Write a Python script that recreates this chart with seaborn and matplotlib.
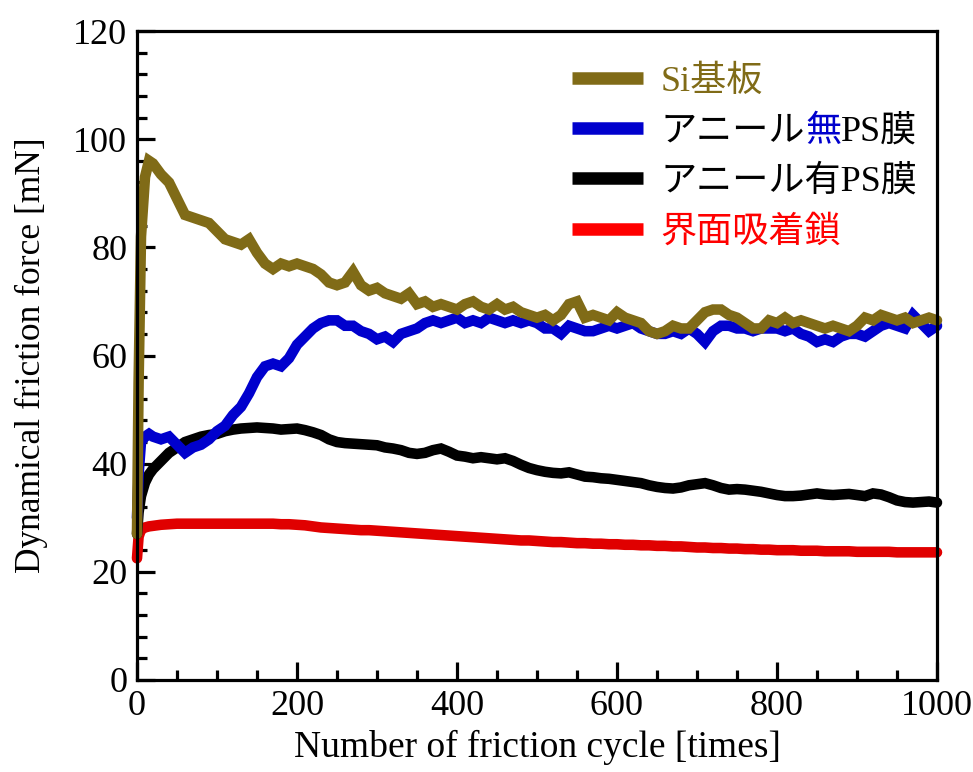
import matplotlib
matplotlib.use("Agg")
import matplotlib.pyplot as plt
from matplotlib.lines import Line2D
from matplotlib.ticker import MultipleLocator
import pandas as pd
import seaborn as sns

# Friction cycle number at each sample
cycles = [0, 2, 5, 10, 15] + list(range(20, 1001, 10))

# Dynamical friction force [mN] for each sample
si_substrate = [
    27, 55, 82, 93, 96,
    95.5, 93.5, 92, 89, 86, 85.5, 85, 84.5, 83, 81.5,
    81, 80.5, 81.5, 79, 77, 76, 77, 76.5, 77, 76.5,
    76, 75, 73.5, 73, 73.5, 75.5, 73, 72, 72.5, 71.5,
    71, 70.5, 71.5, 69.5, 70, 69, 69.5, 69, 68.5, 69.5,
    70, 69, 68.5, 69.5, 68.5, 69, 68, 67.5, 67, 67.5,
    66.5, 67.5, 69.5, 70, 67, 67.5, 67, 66.5, 68, 67,
    66.5, 66, 64.5, 64, 64.5, 65.5, 65, 65, 66.5, 68,
    68.5, 68.5, 67.5, 67, 66, 65, 65, 66.5, 66, 67,
    66, 66.5, 66, 65.5, 65, 65.5, 65, 64.5, 65.5, 67,
    66.5, 67.5, 67, 66.5, 67, 66, 66.5, 67, 66.5,
]
unannealed_ps = [
    30, 38, 44, 45, 45.5,
    45, 44.5, 45, 43.5, 42, 43, 43.5, 44.5, 46, 47,
    49, 50.5, 53, 56, 58, 58.5, 58, 59.5, 62, 63.5,
    65, 66, 66.5, 66.5, 65.5, 65.5, 64.5, 64, 63, 63.5,
    62.5, 64, 64.5, 65, 66, 66.5, 66, 66.5, 67, 66,
    66.5, 66, 67, 66.5, 66, 66.5, 66, 66.5, 66, 65,
    65, 64, 65.5, 65, 64.5, 64.5, 65, 65.5, 65, 65.5,
    66, 65, 64.5, 64, 64, 64.5, 64, 65, 64, 62.5,
    64.5, 65.5, 65.5, 65, 65, 64.5, 65, 65, 65, 64.5,
    65, 64, 63.5, 62.5, 63, 62.5, 63.5, 64, 64, 63.5,
    64.5, 65.5, 66, 65.5, 65, 67.5, 66, 64.5, 65.5,
]
annealed_ps = [
    27, 31, 34, 36.5, 38,
    39, 40.5, 42, 43, 44, 44.5, 45, 45.3, 45.5, 46,
    46.3, 46.5, 46.6, 46.7, 46.6, 46.5, 46.3, 46.4, 46.5, 46.2,
    45.8, 45.3, 44.5, 44, 43.8, 43.7, 43.6, 43.5, 43.4, 43,
    42.8, 42.5, 42, 41.8, 42, 42.5, 42.8, 42.2, 41.5, 41.3,
    41, 41.2, 41, 40.8, 41, 40.5, 39.8, 39.2, 38.8, 38.5,
    38.3, 38.2, 38.4, 38, 37.6, 37.5, 37.3, 37.2, 37, 36.8,
    36.6, 36.4, 36, 35.7, 35.5, 35.4, 35.6, 36, 36.2, 36.4,
    36, 35.5, 35.2, 35.3, 35.2, 35, 34.8, 34.5, 34.2, 34,
    34, 34.1, 34.3, 34.5, 34.3, 34.2, 34.3, 34.4, 34.2, 34,
    34.5, 34.3, 33.8, 33.2, 32.9, 32.8, 32.9, 33, 32.8,
]
adsorbed_chains = [
    22.5, 26.5, 27.8, 28.2, 28.4,
    28.5, 28.7, 28.8, 28.9, 28.9, 28.9, 28.9, 28.9, 28.9, 28.9,
    28.9, 28.9, 28.9, 28.9, 28.9, 28.9, 28.8, 28.8, 28.7, 28.6,
    28.4, 28.2, 28.1, 28, 27.9, 27.8, 27.7, 27.7, 27.6, 27.5,
    27.4, 27.3, 27.2, 27.1, 27, 26.9, 26.8, 26.7, 26.6, 26.5,
    26.4, 26.3, 26.2, 26.1, 26, 25.9, 25.8, 25.8, 25.7, 25.6,
    25.5, 25.5, 25.4, 25.3, 25.3, 25.2, 25.2, 25.1, 25.1, 25,
    25, 24.9, 24.9, 24.8, 24.8, 24.7, 24.7, 24.6, 24.5, 24.5,
    24.4, 24.4, 24.3, 24.3, 24.2, 24.2, 24.1, 24.1, 24, 24,
    24, 23.9, 23.9, 23.9, 23.8, 23.8, 23.8, 23.8, 23.7, 23.7,
    23.7, 23.7, 23.7, 23.6, 23.6, 23.6, 23.6, 23.6, 23.6,
]

series_labels = ["Si基板", "アニール無PS膜", "アニール有PS膜", "界面吸着鎖"]
line_colors = ["#806b17", "#0000cd", "#000000", "#e00000"]
text_colors = ["#806b17", "#000000", "#000000", "#ff0000"]

x_ticks = [0, 200, 400, 600, 800, 1000]
y_ticks = [0, 20, 40, 60, 80, 100, 120]

df = pd.DataFrame({
    "cycle": cycles * 4,
    "force": si_substrate + unannealed_ps + annealed_ps + adsorbed_chains,
    "sample": sum([[lab] * len(cycles) for lab in series_labels], []),
})

sns.set_theme(style="white")
plt.rcParams["font.family"] = ["Liberation Serif", "Noto Sans CJK JP"]
plt.rcParams["axes.linewidth"] = 2.3
plt.rcParams["text.color"] = "black"
plt.rcParams["axes.labelcolor"] = "black"
plt.rcParams["xtick.color"] = "black"
plt.rcParams["ytick.color"] = "black"

fig = plt.figure(figsize=(9.73, 7.72), dpi=100)
ax = fig.add_axes([0.1408, 0.1192, 0.8222, 0.8406])

# draw order: red at the bottom, olive on top
for idx in [3, 2, 1, 0]:
    sub = df[df["sample"] == series_labels[idx]]
    sns.lineplot(data=sub, x="cycle", y="force", ax=ax, color=line_colors[idx],
                 linewidth=7.6, estimator=None, sort=False, legend=False,
                 clip_on=False, solid_joinstyle="miter")

ax.set_xlim(0, 1000)
ax.set_ylim(0, 120)
ax.set_xticks(x_ticks)
ax.set_yticks(y_ticks)
ax.xaxis.set_minor_locator(MultipleLocator(50))
ax.yaxis.set_minor_locator(MultipleLocator(4))
ax.tick_params(which="both", direction="in", left=True, bottom=True,
               right=False, top=False, width=2.3, labelsize=26, colors="black")
ax.tick_params(which="major", length=13, pad=7)
ax.tick_params(which="minor", length=7.5)
for sp in ax.spines.values():
    sp.set_color("black")
    sp.set_linewidth(2.3)

ax.set_xlabel("Number of friction cycle [times]", fontsize=27, labelpad=5,
              color="black")
ax.set_ylabel("Dynamical friction force [mN]", fontsize=25.5, labelpad=18,
              color="black")

handles = [Line2D([], [], color=c, linewidth=9, solid_capstyle="butt")
           for c in ["#806b17", "#0000cd", "#000000", "#ff0000"]]
leg_labels = ["Si基板", "アニール", "アニール有PS膜", "界面吸着鎖"]
leg = ax.legend(handles, leg_labels, loc="upper left", bbox_to_anchor=(0.544, 0.947),
                frameon=False, fontsize=26, handlelength=1.95, handletextpad=0.5,
                labelspacing=0.46, borderpad=0, borderaxespad=0)
for t, c in zip(leg.get_texts(), text_colors):
    t.set_color(c)

# second legend entry: "無" coloured blue inside the label
second = leg.get_texts()[1]
mu = ax.annotate("無", xy=(1, 0), xycoords=second, ha="left", va="bottom",
                 fontsize=26, color="#0000cd", annotation_clip=False, zorder=10)
ax.annotate("PS膜", xy=(1, 0), xycoords=mu, ha="left", va="bottom",
            fontsize=26, color="#000000", annotation_clip=False, zorder=11)

fig.savefig("out.png", dpi=100)
